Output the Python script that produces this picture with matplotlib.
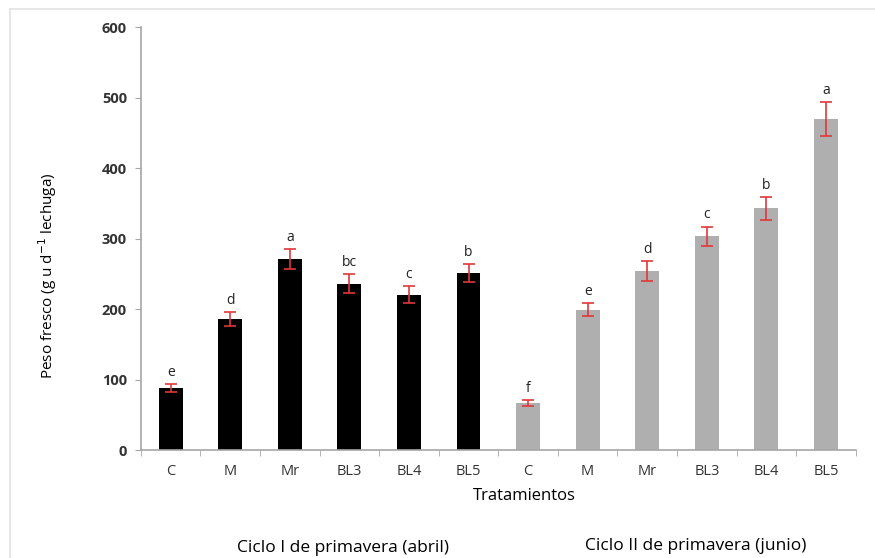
import numpy as np
import matplotlib.pyplot as plt
from matplotlib.lines import Line2D

plt.rcParams['font.family'] = ['Open Sans', 'DejaVu Sans']

# fresh weight per lettuce, two spring cycles
tratamientos = ["C", "M", "Mr", "BL3", "BL4", "BL5"]
ciclo1 = [88, 186, 271, 236, 220, 251]
ciclo1_err = [5, 10, 14, 13, 12, 13]
ciclo1_letras = ["e", "d", "a", "bc", "c", "b"]
ciclo2 = [67, 199, 254, 303, 343, 469]
ciclo2_err = [4, 9, 14, 14, 16, 24]
ciclo2_letras = ["f", "e", "d", "c", "b", "a"]

fig = plt.figure(figsize=(8.75, 5.58), dpi=100)
# faint frame on the left and top edges
fig.add_artist(Line2D([10 / 875, 10 / 875], [0, 1 - 9 / 558], transform=fig.transFigure,
                      color="#e3e3e3", lw=1.2))
fig.add_artist(Line2D([10 / 875, 1], [1 - 9 / 558, 1 - 9 / 558], transform=fig.transFigure,
                      color="#e3e3e3", lw=1.2))

ax = fig.add_axes([0.161, 0.1935, 0.817, 0.758])

n = len(tratamientos)
x1 = np.arange(n)
x2 = np.arange(n, 2 * n)
w = 0.4
err_kw = dict(ecolor="#e0383a", elinewidth=1.2, capsize=4.3, capthick=1.2)

ax.bar(x1, ciclo1, w, color="black", yerr=ciclo1_err, error_kw=err_kw)
ax.bar(x2, ciclo2, w, color="#afafaf", yerr=ciclo2_err, error_kw=err_kw)

for xs, vals, errs, letras in [(x1, ciclo1, ciclo1_err, ciclo1_letras),
                               (x2, ciclo2, ciclo2_err, ciclo2_letras)]:
    for xi, v, e, l in zip(xs, vals, errs, letras):
        ax.text(xi, v + e + 6, l, ha="center", va="bottom", fontsize=10, color="#222222")

ax.set_xlim(-0.5, 2 * n - 0.5)
ax.set_ylim(0, 600)
ax.set_yticks(range(0, 601, 100))
ax.set_xticks(np.concatenate([x1, x2]))
ax.set_xticklabels(tratamientos + tratamientos, fontsize=10.5, color="#333333")
ax.set_xticks(np.arange(-0.5, 2 * n, 1), minor=True)
ax.tick_params(axis="x", which="major", length=0, pad=10)
ax.tick_params(axis="x", which="minor", length=4, color="#a6a6a6", direction="out")
ax.tick_params(axis="y", length=4, color="#a6a6a6", labelsize=10.5, pad=6)
for lab in ax.get_yticklabels():
    lab.set_fontweight("bold")
    lab.set_color("#333333")

for s in ["top", "right"]:
    ax.spines[s].set_visible(False)
for s in ["left", "bottom"]:
    ax.spines[s].set_color("#a6a6a6")
    ax.spines[s].set_linewidth(1.2)

ax.set_ylabel("Peso fresco (g u d$^{-1}$ lechuga)", fontsize=11)
ax.yaxis.set_label_coords(-0.115, 0.411)
ax.set_xlabel("Tratamientos", fontsize=12)
ax.xaxis.set_label_coords(0.537, -0.09)

fig.text(343 / 875, 1 - 548 / 558, "Ciclo I de primavera (abril)", ha="center", va="center", fontsize=12.5)
fig.text(696 / 875, 1 - 546 / 558, "Ciclo II de primavera (junio)", ha="center", va="center", fontsize=12.5)

fig.savefig("out.png", dpi=100)
